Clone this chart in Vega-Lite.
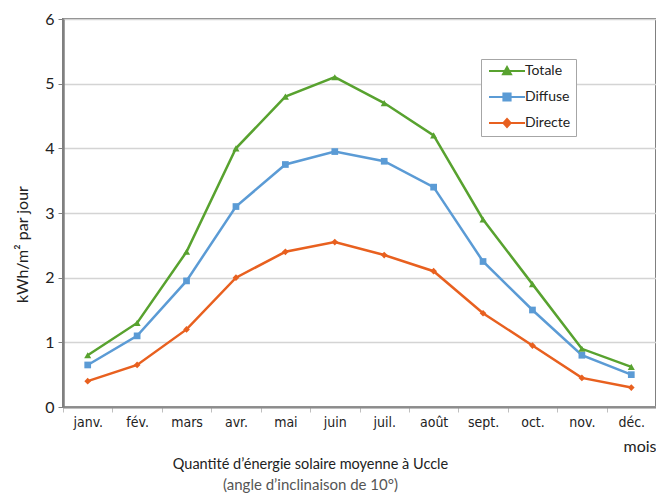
{
  "$schema": "https://vega.github.io/schema/vega-lite/v6.json",
  "width": 593,
  "height": 388,
  "autosize": {"type": "none"},
  "padding": {"left": 63, "top": 19, "right": 0, "bottom": 92},
  "background": "white",
  "config": {
    "view": {"stroke": "#808080", "strokeWidth": 2},
    "font": "Lato"
  },
  "title": {
    "text": "Quantité d’énergie solaire moyenne à Uccle",
    "subtitle": "(angle d’inclinaison de 10°)",
    "orient": "bottom",
    "anchor": "middle",
    "dx": -49,
    "offset": 4,
    "font": "Lato",
    "fontSize": 14.5,
    "fontWeight": "normal",
    "color": "#222",
    "subtitleFont": "Lato",
    "subtitleFontSize": 15,
    "subtitleColor": "#555",
    "subtitlePadding": 5
  },
  "data": {
    "values": [
      {"mois": "janv.", "serie": "Totale", "valeur": 0.8},
      {"mois": "fév.", "serie": "Totale", "valeur": 1.3},
      {"mois": "mars", "serie": "Totale", "valeur": 2.4},
      {"mois": "avr.", "serie": "Totale", "valeur": 4.0},
      {"mois": "mai", "serie": "Totale", "valeur": 4.8},
      {"mois": "juin", "serie": "Totale", "valeur": 5.1},
      {"mois": "juil.", "serie": "Totale", "valeur": 4.7},
      {"mois": "août", "serie": "Totale", "valeur": 4.2},
      {"mois": "sept.", "serie": "Totale", "valeur": 2.9},
      {"mois": "oct.", "serie": "Totale", "valeur": 1.9},
      {"mois": "nov.", "serie": "Totale", "valeur": 0.9},
      {"mois": "déc.", "serie": "Totale", "valeur": 0.62},
      {"mois": "janv.", "serie": "Diffuse", "valeur": 0.65},
      {"mois": "fév.", "serie": "Diffuse", "valeur": 1.1},
      {"mois": "mars", "serie": "Diffuse", "valeur": 1.95},
      {"mois": "avr.", "serie": "Diffuse", "valeur": 3.1},
      {"mois": "mai", "serie": "Diffuse", "valeur": 3.75},
      {"mois": "juin", "serie": "Diffuse", "valeur": 3.95},
      {"mois": "juil.", "serie": "Diffuse", "valeur": 3.8},
      {"mois": "août", "serie": "Diffuse", "valeur": 3.4},
      {"mois": "sept.", "serie": "Diffuse", "valeur": 2.25},
      {"mois": "oct.", "serie": "Diffuse", "valeur": 1.5},
      {"mois": "nov.", "serie": "Diffuse", "valeur": 0.8},
      {"mois": "déc.", "serie": "Diffuse", "valeur": 0.5},
      {"mois": "janv.", "serie": "Directe", "valeur": 0.4},
      {"mois": "fév.", "serie": "Directe", "valeur": 0.65},
      {"mois": "mars", "serie": "Directe", "valeur": 1.2},
      {"mois": "avr.", "serie": "Directe", "valeur": 2.0},
      {"mois": "mai", "serie": "Directe", "valeur": 2.4},
      {"mois": "juin", "serie": "Directe", "valeur": 2.55},
      {"mois": "juil.", "serie": "Directe", "valeur": 2.35},
      {"mois": "août", "serie": "Directe", "valeur": 2.1},
      {"mois": "sept.", "serie": "Directe", "valeur": 1.45},
      {"mois": "oct.", "serie": "Directe", "valeur": 0.95},
      {"mois": "nov.", "serie": "Directe", "valeur": 0.45},
      {"mois": "déc.", "serie": "Directe", "valeur": 0.3}
    ]
  },
  "encoding": {
    "x": {
      "field": "mois",
      "type": "nominal",
      "sort": ["janv.", "fév.", "mars", "avr.", "mai", "juin", "juil.", "août", "sept.", "oct.", "nov.", "déc."],
      "scale": {"paddingInner": 0, "paddingOuter": 0},
      "axis": {
        "title": "mois",
        "titleAnchor": "end",
        "titleAlign": "right",
        "titleBaseline": "alphabetic",
        "titleX": 593,
        "titleY": 44,
        "titleFont": "Lato",
        "titleFontSize": 16,
        "titleFontWeight": "normal",
        "titleColor": "#222",
        "labelAngle": 0,
        "labelFont": "DejaVu Sans Condensed, Liberation Sans Narrow, sans-serif",
        "labelFontSize": 14,
        "labelColor": "#222",
        "labelPadding": 3,
        "domainColor": "#8c8c8c",
        "domainWidth": 2,
        "tickBand": "extent",
        "tickColor": "#bfbfbf",
        "tickSize": 5,
        "grid": false
      }
    },
    "y": {
      "field": "valeur",
      "type": "quantitative",
      "scale": {"domain": [0, 6], "nice": false},
      "axis": {
        "title": "kWh/m² par jour",
        "titleFont": "Lato",
        "titleFontSize": 16,
        "titleFontWeight": "normal",
        "titleColor": "#222",
        "titlePadding": 14,
        "titleY": 225,
        "values": [0, 1, 2, 3, 4, 5, 6],
        "labelFont": "Lato",
        "labelFontSize": 16,
        "labelColor": "#222",
        "labelPadding": 4,
        "domainColor": "#808080",
        "domainWidth": 2.5,
        "tickColor": "#808080",
        "tickSize": 5,
        "gridColor": "#d4d4d4",
        "gridWidth": 1.5
      }
    },
    "color": {
      "field": "serie",
      "type": "nominal",
      "scale": {"domain": ["Totale", "Diffuse", "Directe"], "range": ["#58a22f", "#5b9bd5", "#e8601f"]},
      "legend": {
        "orient": "none",
        "legendX": 418,
        "legendY": 40,
        "title": null,
        "strokeColor": "#a6a6a6",
        "fillColor": "white",
        "padding": 5,
        "symbolSize": 64,
        "symbolStrokeWidth": 2,
        "symbolOffset": 0,
        "labelOffset": 25,
        "labelFont": "Lato",
        "labelFontSize": 14,
        "labelColor": "#222",
        "rowPadding": 10,
        "encode": {
          "symbols": {
            "update": {
              "shape": {"signal": "datum.value === 'Totale' ? 'M-1,0H8M2.5,0.8L3.5,-1L4.5,0.8Z' : datum.value === 'Diffuse' ? 'M-1,0H8M2.6,-0.9H4.4V0.9H2.6Z' : 'M-1,0H8M3.5,-1L4.4,0L3.5,1L2.6,0Z'"},
              "stroke": {"scale": "color", "field": "value"},
              "fill": {"scale": "color", "field": "value"},
              "strokeWidth": {"value": 2},
              "opacity": {"value": 1}
            }
          }
        }
      }
    }
  },
  "layer": [
    {
      "mark": {"type": "line", "strokeWidth": 2.5}
    },
    {
      "transform": [{"filter": "datum.serie === 'Totale'"}],
      "mark": {"type": "point", "filled": true, "opacity": 1, "size": 50, "shape": "triangle-up"}
    },
    {
      "transform": [{"filter": "datum.serie === 'Diffuse'"}],
      "mark": {"type": "point", "filled": true, "opacity": 1, "size": 45, "shape": "square"}
    },
    {
      "transform": [{"filter": "datum.serie === 'Directe'"}],
      "mark": {"type": "point", "filled": true, "opacity": 1, "size": 45, "shape": "diamond"}
    }
  ]
}
